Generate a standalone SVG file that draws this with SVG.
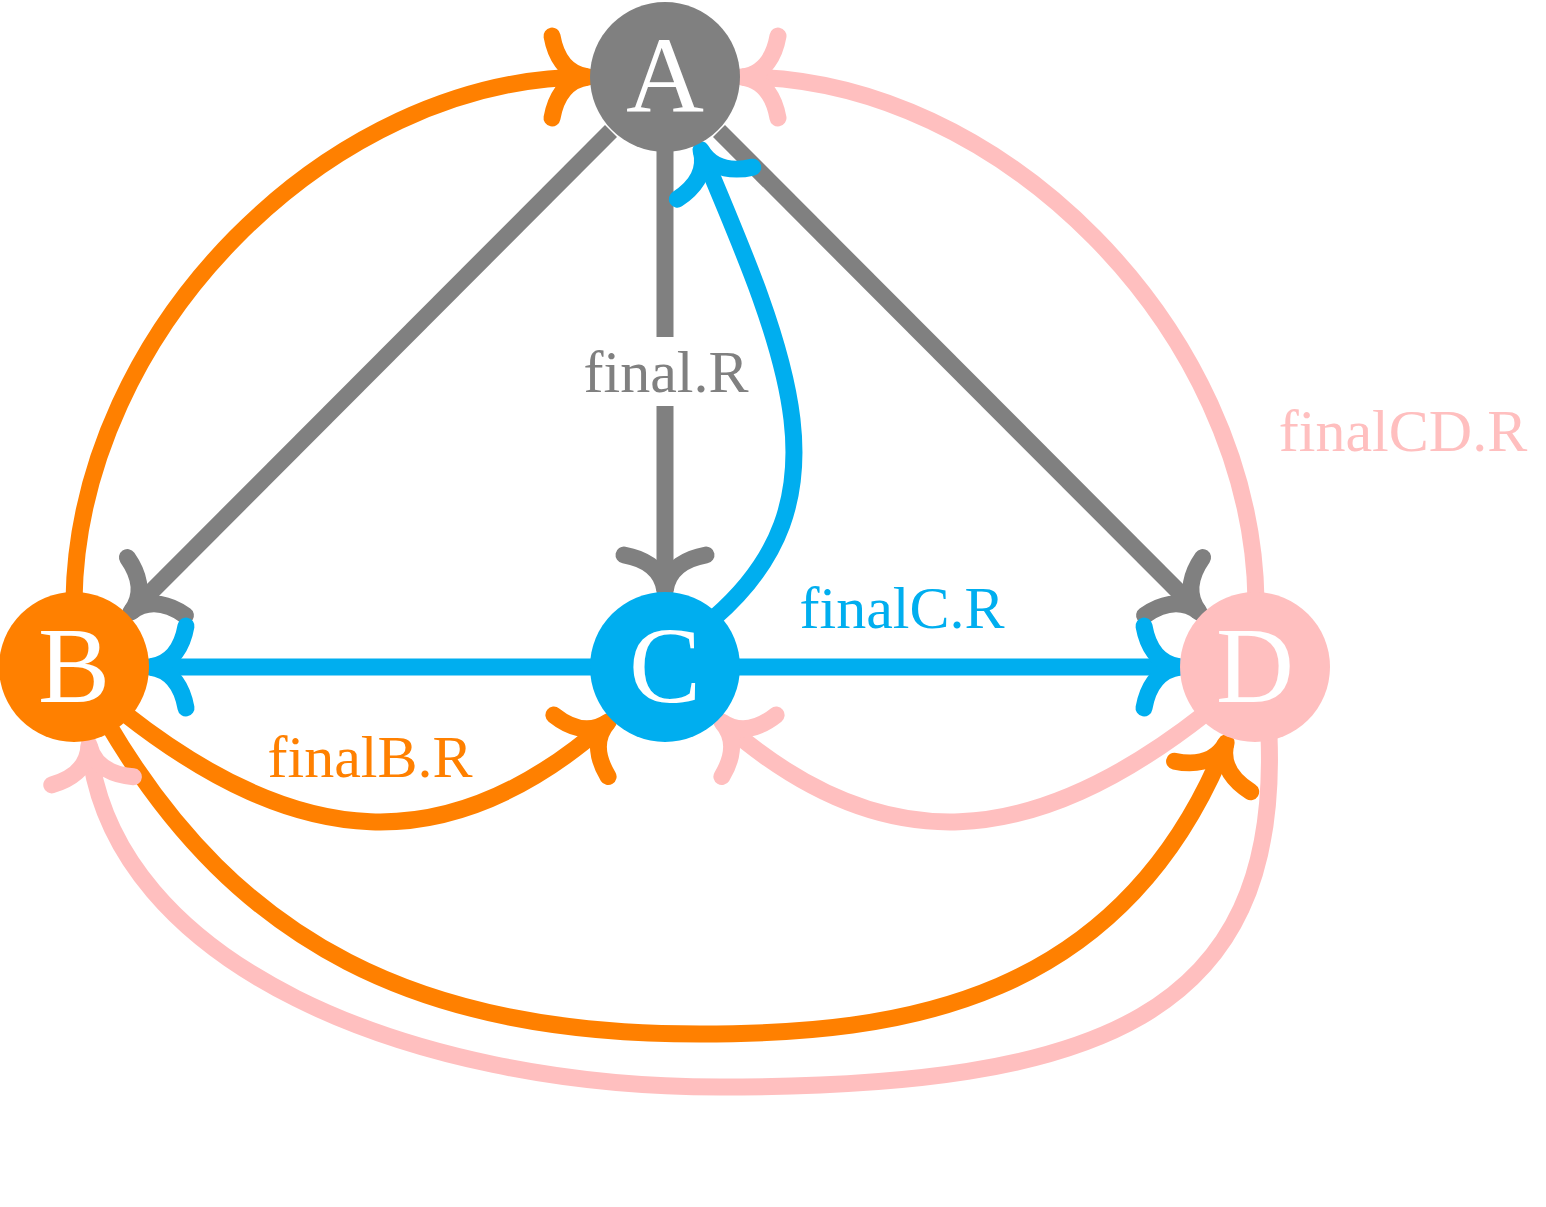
<svg xmlns="http://www.w3.org/2000/svg" width="1546" height="1207" viewBox="0 0 1546 1207">
<style>
.e{fill:none;stroke-width:17;stroke-linecap:butt}
.g{stroke:#808080}.o{stroke:#FF8000}.b{stroke:#00AEEF}.p{stroke:#FFBFBF}
.ah{fill:none;stroke-width:17;stroke-linecap:round;stroke-linejoin:round}
.lbl{font-family:"Liberation Serif","DejaVu Serif",serif;font-size:60px;text-anchor:middle}
.nl{font-family:"Liberation Serif","DejaVu Serif",serif;font-size:108px;text-anchor:middle;fill:#FFFFFF}
</style>
<defs>
<marker id="mg" markerUnits="userSpaceOnUse" orient="auto" refX="0" refY="0" markerWidth="1" markerHeight="1" style="overflow:visible"><path class="ah" stroke="#808080" d="M-36,-41 C-33,-24 -24,-3 0,0 C-24,3 -33,24 -36,41"/></marker>
<marker id="mo" markerUnits="userSpaceOnUse" orient="auto" refX="0" refY="0" markerWidth="1" markerHeight="1" style="overflow:visible"><path class="ah" stroke="#FF8000" d="M-36,-41 C-33,-24 -24,-3 0,0 C-24,3 -33,24 -36,41"/></marker>
<marker id="mb" markerUnits="userSpaceOnUse" orient="auto" refX="0" refY="0" markerWidth="1" markerHeight="1" style="overflow:visible"><path class="ah" stroke="#00AEEF" d="M-36,-41 C-33,-24 -24,-3 0,0 C-24,3 -33,24 -36,41"/></marker>
<marker id="mp" markerUnits="userSpaceOnUse" orient="auto" refX="0" refY="0" markerWidth="1" markerHeight="1" style="overflow:visible"><path class="ah" stroke="#FFBFBF" d="M-36,-41 C-33,-24 -24,-3 0,0 C-24,3 -33,24 -36,41"/></marker>
</defs>
<rect width="1546" height="1207" fill="#FFFFFF"/>
<g id="connectors">
<path id="e-A-B" class="e g" marker-end="url(#mg)" d="M611,131 L131,612"/>
<path id="e-A-C" class="e g" marker-end="url(#mg)" d="M665,150 V337 M665,406 V591"/>
<path id="e-A-D" class="e g" marker-end="url(#mg)" d="M719,131 L1199,612"/>
<path id="e-C-B" class="e b" marker-end="url(#mb)" d="M600,667 H150"/>
<path id="e-C-D" class="e b" marker-end="url(#mb)" d="M730,667 H1180"/>
<path id="e-C-A" class="e b" marker-end="url(#mb)" d="M714,618 C850,500 790,360 701,150"/>
<path id="e-B-A" class="e o" marker-end="url(#mo)" d="M74,600 C78,330 330,77 588,77"/>
<path id="e-B-C" class="e o" marker-end="url(#mo)" d="M124,713 C297,849 447,864 608,722"/>
<path id="e-B-D" class="e o" marker-end="url(#mo)" d="M108,724 C238,945 420,1034 700,1034 C900,1034 1122,1003 1226,743"/>
<path id="e-D-A" class="e p" marker-end="url(#mp)" d="M1256,600 C1252,330 1000,77 742,77"/>
<path id="e-D-C" class="e p" marker-end="url(#mp)" d="M1206,713 C1033,849 883,864 722,722"/>
<path id="e-D-B" class="e p" marker-end="url(#mp)" d="M1269,736 C1280,1015 1100,1087 720,1087 C410,1087 111,965 89,745"/>
<text class="lbl" fill="#808080" x="666" y="392">final.R</text>
<text class="lbl" fill="#00AEEF" x="902" y="628">finalC.R</text>
<text class="lbl" fill="#FF8000" x="370" y="777">finalB.R</text>
<text class="lbl" fill="#FFBFBF" x="1403" y="451">finalCD.R</text>
</g>
<g id="node-A"><circle cx="665" cy="77" r="75" fill="#808080"/><text class="nl" x="665" y="112">A</text></g>
<g id="node-B"><circle cx="74" cy="667" r="75" fill="#FF8000"/><text class="nl" x="74" y="702">B</text></g>
<g id="node-C"><circle cx="665" cy="667" r="75" fill="#00AEEF"/><text class="nl" x="665" y="702">C</text></g>
<g id="node-D"><circle cx="1255" cy="667" r="75" fill="#FFBFBF"/><text class="nl" x="1255" y="702">D</text></g>
</svg>
